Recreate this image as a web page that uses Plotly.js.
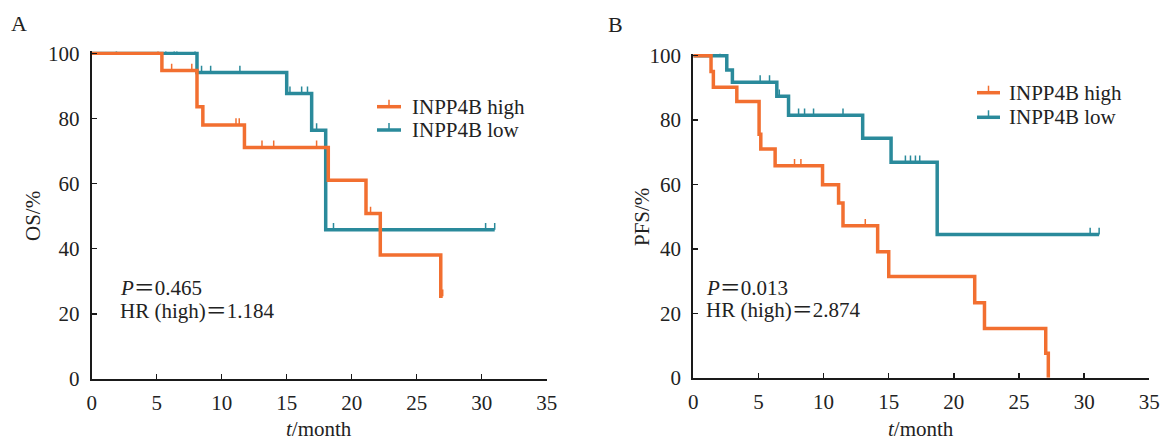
<!DOCTYPE html>
<html>
<head>
<meta charset="utf-8">
<script src="https://cdn.plot.ly/plotly-3.0.1.min.js"></script>
<style>html,body{margin:0;padding:0;background:#fff;}#chart{width:1161px;height:441px;}</style>
</head>
<body>
<div id="chart"></div>
<script>
// ---- Panel A: OS ----
const osHighTime = [0, 5.4, 8.1, 8.55, 11.75, 18.2, 21.1, 22.2, 26.85, 27.0];
const osHighSurv = [100, 94.7, 83.6, 78.0, 71.1, 61.0, 50.8, 38.1, 25.4, 25.4];
const osHighCensor = [5.1, 6.15, 7.7, 11.1, 11.35, 13.1, 14.0, 17.3, 21.45, 27.0];

const osLowTime = [0, 8.1, 15.0, 16.92, 18.0, 31.0];
const osLowSurv = [100, 94.1, 87.7, 76.4, 45.8, 45.8];
const osLowCensor = [1.9, 5.7, 6.35, 6.55, 7.95, 8.45, 9.15, 11.4, 15.25, 16.15, 16.6, 17.3, 18.6, 30.3, 31.0];

// ---- Panel B: PFS ----
const pfsHighTime = [0, 1.36, 1.54, 3.34, 5.05, 5.18, 6.28, 9.92, 11.15, 11.49, 14.15, 15.0, 21.6, 22.35, 27.05, 27.25];
const pfsHighSurv = [100, 95.1, 90.2, 85.8, 75.6, 71.0, 65.8, 59.9, 54.3, 47.2, 39.1, 31.4, 23.3, 15.3, 7.6, 0];
const pfsHighCensor = [7.77, 8.26, 13.2];

const pfsLowTime = [0, 2.57, 3.0, 6.41, 7.31, 13.0, 15.18, 18.72, 31.15];
const pfsLowSurv = [100, 95.6, 91.8, 87.4, 81.5, 74.4, 66.9, 44.5, 44.5];
const pfsLowCensor = [2.05, 5.13, 5.85, 6.6, 8.08, 8.54, 9.23, 11.49, 16.28, 16.67, 17.05, 17.38, 30.46, 31.15];

const groupNames = ["INPP4B high", "INPP4B low"];
const xTicks = [0, 5, 10, 15, 20, 25, 30, 35];
const yTicks = [0, 20, 40, 60, 80, 100];
const statsA = ["<i>P</i>＝0.465", "HR (high)＝1.184"];
const statsB = ["<i>P</i>＝0.013", "HR (high)＝2.874"];

const ORANGE = "#F26F30";
const TEAL = "#2A8A9B";
const FONT = "Liberation Serif, Times New Roman, Noto Sans CJK SC, serif";
const TXT = "#222222";
const W = 1161, H = 441;
const TICK_H = 2.1; // censor tick height (y units)

function stepAt(T, S, t) {
  let v = S[0];
  for (let i = 0; i < T.length; i++) { if (T[i] <= t) v = S[i]; }
  return v;
}

function curve(T, S, color, name, xa, ya) {
  return {
    type: "scatter", mode: "lines", x: T, y: S, name: name,
    line: {shape: "hv", color: color, width: 3.5},
    xaxis: xa, yaxis: ya, showlegend: false, hoverinfo: "skip"
  };
}
// censor marks: short vertical ticks rising from the curve (error bars)
function censor(T, S, C, color, xa, ya) {
  return {
    type: "scatter", mode: "markers", x: C,
    y: C.map(t => stepAt(T, S, t)),
    marker: {size: 1, color: "rgba(0,0,0,0)"},
    error_y: {type: "data", symmetric: false, array: C.map(() => TICK_H), arrayminus: C.map(() => 0),
      width: 0, thickness: 1.5, color: color},
    xaxis: xa, yaxis: ya, showlegend: false, cliponaxis: false, hoverinfo: "skip"
  };
}

const data = [
  curve(osLowTime, osLowSurv, TEAL, groupNames[1], "x", "y"),
  censor(osLowTime, osLowSurv, osLowCensor, TEAL, "x", "y"),
  curve(osHighTime, osHighSurv, ORANGE, groupNames[0], "x", "y"),
  censor(osHighTime, osHighSurv, osHighCensor, ORANGE, "x", "y"),
  curve(pfsLowTime, pfsLowSurv, TEAL, groupNames[1], "x2", "y2"),
  censor(pfsLowTime, pfsLowSurv, pfsLowCensor, TEAL, "x2", "y2"),
  curve(pfsHighTime, pfsHighSurv, ORANGE, groupNames[0], "x2", "y2"),
  censor(pfsHighTime, pfsHighSurv, pfsHighCensor, ORANGE, "x2", "y2")
];

function xAxis(domain, anchor) {
  return {
    domain: domain, anchor: anchor, range: [0, 35], tickvals: xTicks, ticktext: xTicks.map(String),
    ticks: "inside", ticklen: 5, tickwidth: 1.5, tickcolor: "#1a1a1a",
    showline: true, linewidth: 2, linecolor: "#1a1a1a", showgrid: false, zeroline: false,
    tickfont: {family: FONT, size: 21, color: TXT}, ticklabelstandoff: 4, fixedrange: true
  };
}
function yAxis(domain, anchor) {
  return {
    domain: domain, anchor: anchor, range: [0, 100.6], tickvals: yTicks, ticktext: yTicks.map(String),
    ticks: "inside", ticklen: 5, tickwidth: 1.5, tickcolor: "#1a1a1a",
    showline: true, linewidth: 2, linecolor: "#1a1a1a", showgrid: false, zeroline: false,
    tickfont: {family: FONT, size: 21, color: TXT}, ticklabelstandoff: 6, fixedrange: true
  };
}

function ann(text, x, y, opts) {
  return Object.assign({
    text: text, xref: "paper", yref: "paper", x: x / W, y: (H - y) / H,
    xanchor: "left", yanchor: "middle", showarrow: false,
    font: {family: FONT, size: 21, color: TXT}
  }, opts || {});
}

// legend (drawn as key lines + labels)
const legendPos = [
  {x0: 377, x1: 401, tx: 410, ys: [106.7, 130]},
  {x0: 977, x1: 1000, tx: 1007, ys: [92.7, 117.3]}
];
const legendColors = [ORANGE, TEAL];
const shapes = [];
const legendAnns = [];
legendPos.forEach(p => {
  groupNames.forEach((g, i) => {
    const y = p.ys[i];
    shapes.push({type: "line", xref: "paper", yref: "paper",
      x0: p.x0 / W, x1: p.x1 / W, y0: (H - y) / H, y1: (H - y) / H,
      line: {color: legendColors[i], width: 3.5}});
    const cx = (p.x0 + p.x1) / 2;
    shapes.push({type: "line", xref: "paper", yref: "paper",
      x0: cx / W, x1: cx / W, y0: (H - y) / H, y1: (H - y + 7) / H,
      line: {color: legendColors[i], width: 1.5}});
    legendAnns.push(ann(g, p.tx, y));
  });
});

const layout = {
  width: W, height: H,
  margin: {l: 0, r: 0, t: 0, b: 0},
  paper_bgcolor: "#ffffff", plot_bgcolor: "#ffffff",
  font: {family: FONT, size: 21, color: TXT},
  showlegend: false,
  xaxis: xAxis([0.07898, 0.47089], "y"),
  yaxis: yAxis([0.1406, 0.8835], "x"),
  xaxis2: xAxis([0.59716, 0.98992], "y2"),
  yaxis2: yAxis([0.1435, 0.8780], "x2"),
  shapes: shapes,
  annotations: [
    ann("A", 9, 24, {font: {family: FONT, size: 22, color: TXT}}),
    ann("B", 606, 25, {font: {family: FONT, size: 22, color: TXT}}),
    ann("OS/%", 33, 216, {xanchor: "center", textangle: -90}),
    ann("PFS/%", 642, 217, {xanchor: "center", textangle: -90}),
    ann("<i>t</i>/month", 319, 442, {xanchor: "center", yanchor: "bottom", borderpad: 0}),
    ann("<i>t</i>/month", 921, 442, {xanchor: "center", yanchor: "bottom", borderpad: 0}),
    ann(statsA[0], 118, 288),
    ann(statsA[1], 118, 311),
    ann(statsB[0], 704, 288),
    ann(statsB[1], 704, 310)
  ].concat(legendAnns)
};

Plotly.newPlot("chart", data, layout, {staticPlot: true, displayModeBar: false});
</script>
</body>
</html>
